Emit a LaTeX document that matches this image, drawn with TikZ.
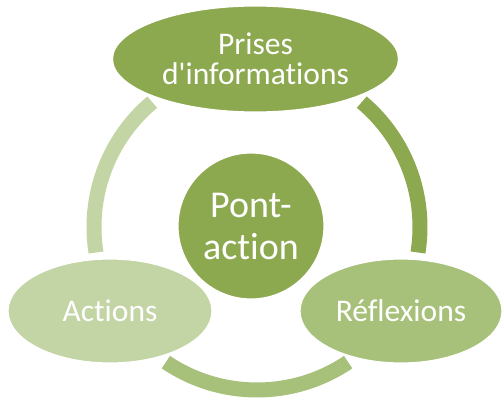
\documentclass[tikz,border=0pt]{standalone}
\usepackage{fontspec}
\setmainfont{Carlito}[Ligatures={NoCommon,TeXOff}]
\usepackage{xcolor}
\usetikzlibrary{shapes.geometric}

\definecolor{leafDark}{HTML}{8DA950}
\definecolor{leafMid}{HTML}{A8C17A}
\definecolor{leafLight}{HTML}{C3D4A5}

\begin{document}
\begin{tikzpicture}[
    bubble/.style={ellipse, draw=white, line width=1pt, text=white, inner sep=0pt, align=center,
                   font=\fontsize{26.9}{25.6}\selectfont},
    segment/.style={line width=0.45cm}
  ]
        \def\R{4.89}

        \useasboundingbox (-7.71,-5.13) rectangle (7.35,6.81);
        \coordinate (ring) at (0,0);

        % ring pieces, each one takes the colour of the bubble it starts from
        \draw[segment, leafDark] (ring) ++(50:\R) arc (50:-9:\R);
        \draw[segment, leafMid] (ring) ++(-56:\R) arc (-56:-124:\R);
        \draw[segment, leafLight] (ring) ++(189:\R) arc (189:130:\R);

        \node[bubble, fill=leafDark, minimum width=8.58cm, minimum height=3.18cm] (prises) at (-0.045,5.04) {Prises\\d'informations};
        \node[bubble, fill=leafMid, minimum width=6.06cm, minimum height=3.12cm] (reflexions) at (4.32,-2.52) {Réflexions};
        \node[bubble, fill=leafLight, minimum width=6.12cm, minimum height=3.12cm] (actions) at (-4.41,-2.52) {Actions};

        \node[bubble, circle, fill=leafDark, minimum size=4.38cm, font=\fontsize{32.4}{35.9}\selectfont] (pont) at (-0.18,0.03) {Pont-\\action};

    \end{tikzpicture}
\end{document}
